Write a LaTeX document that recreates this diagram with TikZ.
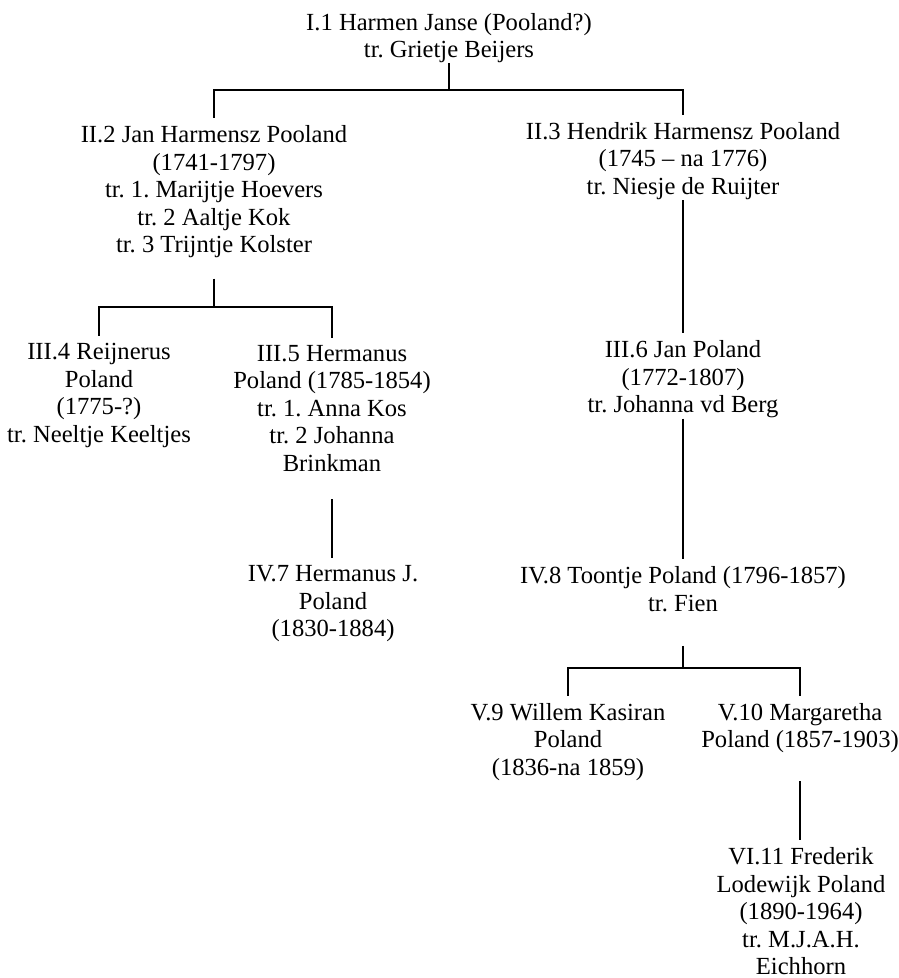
\documentclass[tikz,border=0pt]{standalone}
\usepackage{fontspec}
\setmainfont{Liberation Serif}
\frenchspacing
\begin{document}
\begin{tikzpicture}[x=0.5pt,y=-0.5pt,
  person/.style={align=center,inner sep=0pt,font=\fontsize{12.3}{13.75}\selectfont\frenchspacing},
  link/.style={line width=0.6pt}]
\useasboundingbox (0,0) rectangle (898,978);
\node[person] (n1) at (449,38) {I.1 Harmen Janse (Pooland?)\\tr. Grietje Beijers};
\node[person] (n2) at (214,192) {II.2 Jan Harmensz Pooland\\(1741-1797)\\tr. 1. Marijtje Hoevers\\tr. 2 Aaltje Kok\\tr. 3 Trijntje Kolster};
\node[person] (n3) at (683,161) {II.3 Hendrik Harmensz Pooland\\(1745 – na 1776)\\tr. Niesje de Ruijter};
\node[person] (n4) at (99,395.5) {III.4 Reijnerus\\Poland\\(1775-?)\\tr. Neeltje Keeltjes};
\node[person] (n5) at (332,408.5) {III.5 Hermanus\\Poland (1785-1854)\\tr. 1. Anna Kos\\tr. 2 Johanna\\Brinkman};
\node[person] (n6) at (683,379.5) {III.6 Jan Poland\\(1772-1807)\\tr. Johanna vd Berg};
\node[person] (n7) at (333,604) {IV.7 Hermanus J.\\Poland\\(1830-1884)};
\node[person] (n8) at (683,589) {IV.8 Toontje Poland (1796-1857)\\tr. Fien};
\node[person] (n9) at (568,742) {V.9 Willem Kasiran\\Poland\\(1836-na 1859)};
\node[person] (n10) at (800,728) {V.10 Margaretha\\Poland (1857-1903)};
\node[person] (n11) at (801,911.5) {VI.11 Frederik\\Lodewijk Poland\\(1890-1964)\\tr. M.J.A.H.\\Eichhorn};
\coordinate (j1) at (449,90);
\coordinate (j2) at (214,307);
\coordinate (j3) at (683,668);
\draw[link] (n1.south) -- (j1) -| ([yshift=3.5pt]n2.north);
\draw[link] (j1) -| ([yshift=3.5pt]n3.north);
\draw[link] ([yshift=-10pt]n2.south) -- (j2) -| ([yshift=3.5pt]n4.north);
\draw[link] (j2) -| ([yshift=3.5pt]n5.north);
\draw[link] (n3.south) -- ([yshift=3.5pt]n6.north);
\draw[link] ([yshift=-13.5pt]n5.south) -- ([yshift=3.5pt]n5.south |- n7.north);
\draw[link] (n6.south) -- ([yshift=3.5pt]n8.north);
\draw[link] ([yshift=-17pt]n8.south) -- (j3) -| ([yshift=3.5pt]n9.north);
\draw[link] (j3) -| ([yshift=3.5pt]n10.north);
\draw[link] ([yshift=-14pt]n10.south) -- ([yshift=3.5pt]n10.south |- n11.north);
\end{tikzpicture}
\end{document}
